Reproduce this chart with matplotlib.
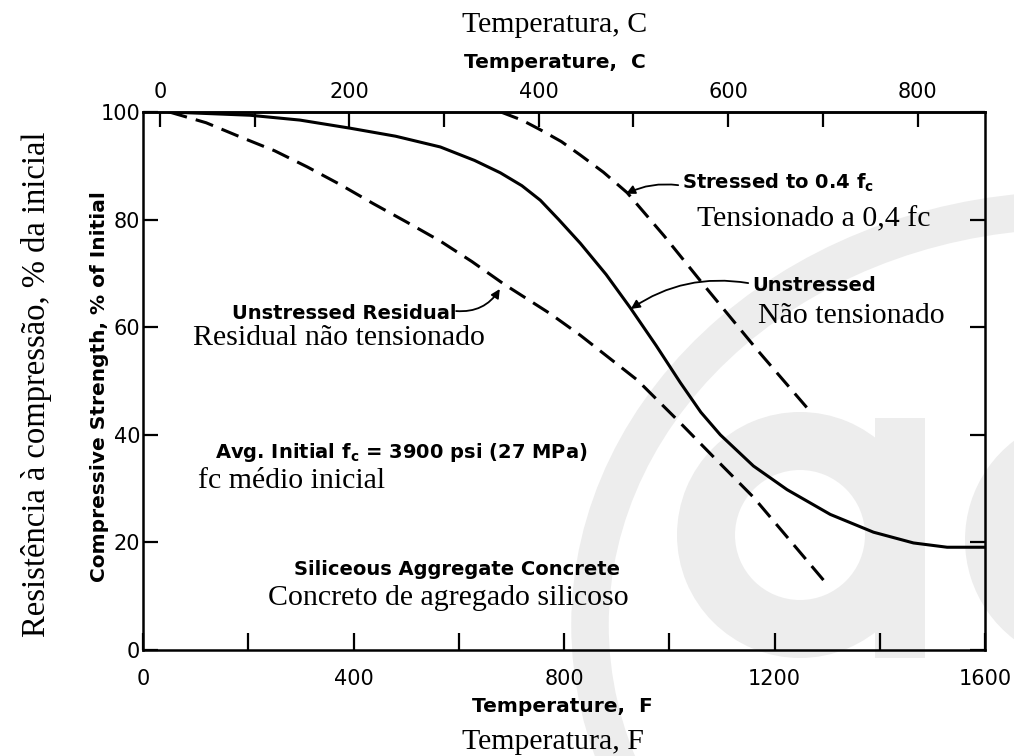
import matplotlib
matplotlib.use('Agg')
import matplotlib.pyplot as plt
from matplotlib.patches import Ellipse, Wedge, Rectangle

# -------- data (temperature in F, strength in % of initial) --------
unstressed_f = [50, 203, 298, 393, 480, 565, 630, 679, 720, 755, 790, 831, 880, 926,
                975, 1021, 1060, 1097, 1160, 1224, 1306, 1388, 1464, 1528, 1600]
unstressed_s = [100, 99.4, 98.5, 97, 95.5, 93.5, 91, 88.7, 86.3, 83.6, 80, 75.6, 69.8, 63.6,
                56.6, 49.7, 44.2, 40.0, 34.2, 29.8, 25.2, 21.9, 19.9, 19.1, 19.1]

residual_f = [50, 120, 184, 250, 312, 375, 437, 500, 565, 625, 686, 774, 831, 939,
              1015, 1084, 1160, 1224, 1293]
residual_s = [100, 98, 95.4, 92.8, 89.8, 86.5, 83, 79.6, 76, 72.2, 68, 62.5, 58.5, 50.2,
              42.8, 35.9, 28.4, 21, 13]

stressed_f = [680, 720, 755, 795, 831, 875, 920, 990, 1066, 1167, 1262]
stressed_s = [100, 98.5, 96.7, 94.5, 92, 88.8, 85, 77, 67.8, 55.8, 45]

f_ticks = [0, 400, 800, 1200, 1600]
f_minor = [200, 600, 1000, 1400]
c_ticks = [0, 200, 400, 600, 800]
c_minor = [100, 300, 500, 700]
s_ticks = [0, 20, 40, 60, 80, 100]

SANS = 'DejaVu Sans'
SERIF = 'Liberation Serif'
W, H = 1014, 756


def f2c(f):
    return (f - 32) * 5.0 / 9.0


def c2f(c):
    return c * 9.0 / 5.0 + 32


def ftext(x, y, s, **kw):
    # place text using pixel coordinates of the picture
    return fig.text(x / W, 1 - y / H, s, **kw)


fig = plt.figure(figsize=(W / 100, H / 100), dpi=100)

# -------- faint logo in the background --------
bg = fig.add_axes([0, 0, 1, 1])
bg.set_xlim(0, W)
bg.set_ylim(H, 0)
bg.axis('off')
grey = '#ededed'
bg.add_patch(Ellipse((1075, 625), 970, 830, fill=False, ec=grey, lw=27))
bg.add_patch(Wedge((800, 535), 123, 0, 360, width=58, fc=grey, ec='none'))
bg.add_patch(Rectangle((875, 418), 50, 240, fc=grey, ec='none'))
bg.add_patch(Wedge((1090, 540), 125, 40, 320, width=60, fc=grey, ec='none'))

# -------- main chart --------
ax = fig.add_axes([143 / W, 106 / H, 842 / W, 538 / H])
ax.set_facecolor('none')

ax.plot(unstressed_f, unstressed_s, color='black', lw=2.2)
ax.plot(residual_f, residual_s, color='black', lw=2.2, ls=(0, (6, 3)))
ax.plot(stressed_f, stressed_s, color='black', lw=2.2, ls=(0, (6, 3)))

ax.set_xlim(0, 1600)
ax.set_ylim(0, 100)
ax.set_xticks(f_ticks)
ax.set_xticks(f_minor, minor=True)
ax.set_yticks(s_ticks)
ax.tick_params(axis='x', which='both', direction='in', length=12, width=1.6,
               pad=14, labelsize=15)
ax.tick_params(axis='y', direction='in', length=11, width=1.6, right=True,
               pad=2, labelsize=15)
for sp in ax.spines.values():
    sp.set_linewidth(1.8)

sec = ax.secondary_xaxis('top', functions=(f2c, c2f))
sec.set_xticks(c_ticks)
sec.set_xticks(c_minor, minor=True)
sec.tick_params(which='both', direction='in', length=11, width=1.6, pad=7,
                labelsize=15)
sec.spines['top'].set_linewidth(1.8)

# -------- axis titles --------
ftext(555, 25, 'Temperatura, C', family=SERIF, fontsize=21.5, ha='center', va='center')
ftext(555, 63, 'Temperature,  C', family=SANS, weight='bold', fontsize=14.5,
      ha='center', va='center')
ftext(562, 707, 'Temperature,  F', family=SANS, weight='bold', fontsize=14.5,
      ha='center', va='center')
ftext(553, 742, 'Temperatura, F', family=SERIF, fontsize=21.5, ha='center', va='center')
ftext(100, 387, 'Compressive Strength, % of Initial', family=SANS, weight='bold',
      fontsize=14.5, rotation=90, ha='center', va='center')
ftext(37, 384, 'Resistência à compressão, % da inicial', family=SERIF,
      fontsize=23.5, rotation=90, ha='center', va='center')

# -------- curve labels and arrows --------
bold = dict(family=SANS, weight='bold', fontsize=14, va='center', ha='left')
serif = dict(family=SERIF, fontsize=21.5, va='center', ha='left')
arrow = dict(arrowstyle='-|>', color='black', lw=1.3, mutation_scale=13,
             shrinkA=0, shrinkB=0)

ax.text(1024, 86.8, r'Stressed to 0.4 f$_\mathbf{c}$', **bold)
ax.text(1053, 80.0, 'Tensionado a 0,4 fc', **serif)
ax.annotate('', xy=(918, 84.8), xytext=(1017, 86.4),
            arrowprops=dict(arrow, connectionstyle='arc3,rad=0.15'))

ax.text(1157, 67.8, 'Unstressed', **bold)
ax.text(1169, 62.0, 'Não tensionado', **serif)
ax.annotate('', xy=(927, 63.4), xytext=(1150, 68.2),
            arrowprops=dict(arrow, connectionstyle='arc3,rad=0.2'))

ax.text(169, 62.6, 'Unstressed Residual', **bold)
ax.text(95, 58.0, 'Residual não tensionado', **serif)
ax.annotate('', xy=(678, 67.1), xytext=(595, 63),
            arrowprops=dict(arrow, connectionstyle='arc3,rad=0.3'))

ax.text(137, 36.8, r'Avg. Initial f$_\mathbf{c}$ = 3900 psi (27 MPa)', **bold)
ax.text(104, 31.4, 'fc médio inicial', **serif)

ax.text(287, 15, 'Siliceous Aggregate Concrete', **bold)
ax.text(237, 9.7, 'Concreto de agregado silicoso', **serif)

fig.savefig('out.png', dpi=100)
